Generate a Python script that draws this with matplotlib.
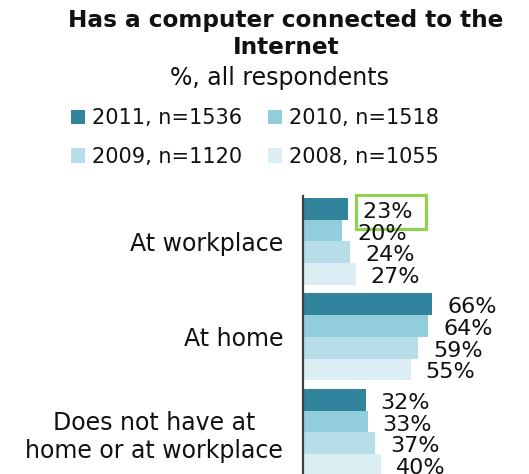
import matplotlib
matplotlib.use("Agg")
import matplotlib.pyplot as plt
import matplotlib.transforms as mtransforms
import numpy as np

plt.rcParams['font.family'] = ['DejaVu Sans']

# Data
categories = ["At workplace", "At home", "Does not have at\nhome or at workplace"]
series_labels = ["2011, n=1536", "2010, n=1518", "2009, n=1120", "2008, n=1055"]
values_2011 = [23, 66, 32]
values_2010 = [20, 64, 33]
values_2009 = [24, 59, 37]
values_2008 = [27, 55, 40]
series_values = [values_2011, values_2010, values_2009, values_2008]
colors = ["#31849B", "#92CDDC", "#B7DEE8", "#DAEEF3"]
highlight = (0, 0)  # (category index, series index) of the boxed label

W, H = 529, 474
fig = plt.figure(figsize=(W / 100, H / 100), dpi=100)

def fx(px):
    return px / W

def fy(py):
    return 1 - py / H

# Axes placed in pixel terms
ax_left, ax_top, ax_right, ax_bottom = 303, 196, 529, 474
ax = fig.add_axes([fx(ax_left), fy(ax_bottom), fx(ax_right - ax_left),
                   (ax_bottom - ax_top) / H])

group_pitch = 4.4
bar_h = 1.0
px_per_unit = 21.7
ytop = -0.5 - 2 / px_per_unit
ybot = ytop + (ax_bottom - ax_top) / px_per_unit
px_per_pct = 1.955

text_color = "#111111"
for s, vals in enumerate(series_values):
    ys = np.arange(len(categories)) * group_pitch + s
    ax.barh(ys, vals, height=bar_h, color=colors[s], label=series_labels[s],
            edgecolor="none")
    for g, (y, v) in enumerate(zip(ys, vals)):
        label = f"{v}%"
        kw = {}
        if (g, s) == highlight:
            label = f"{v}% "
            kw["bbox"] = dict(boxstyle="square,pad=0.3", fc="none",
                              ec="#92D050", lw=2.3)
        ax.annotate(label, xy=(v, y), xytext=(10.8, -2.2),
                    textcoords="offset points", ha="left", va="center",
                    fontsize=16, color=text_color, annotation_clip=False, **kw)

ax.set_xlim(0, (ax_right - ax_left) / px_per_pct)
ax.set_ylim(ybot, ytop)

centers = np.arange(len(categories)) * group_pitch + 1.5
ax.set_yticks(centers)
ax.set_yticklabels(categories, fontsize=17, color=text_color)
lift = mtransforms.ScaledTranslation(0, 3 / 72 * 0.72, fig.dpi_scale_trans)
for lab in ax.get_yticklabels():
    lab.set_multialignment("center")
    if "\n" in lab.get_text():
        lab.set_transform(lab.get_transform() + lift)
ax.tick_params(axis="y", length=0, pad=14.4)
ax.set_xticks([])
for side in ["top", "right", "bottom"]:
    ax.spines[side].set_visible(False)
ax.spines["left"].set_color("#404040")
ax.spines["left"].set_linewidth(1.6)

# Titles
fig.text(fx(286), fy(20), "Has a computer connected to the", ha="center",
         va="center", fontsize=16.7, fontweight="bold", color=text_color)
fig.text(fx(286), fy(48), "Internet", ha="center", va="center",
         fontsize=16.7, fontweight="bold", color=text_color)
fig.text(fx(280), fy(78), "%, all respondents", ha="center", va="center",
         fontsize=17, color=text_color)

# Legend in two columns: 2011 / 2009 on the left, 2010 / 2008 on the right
handles, labels = ax.get_legend_handles_labels()
order = [0, 2, 1, 3]
fig.legend([handles[i] for i in order], [labels[i] for i in order],
           loc="upper left", bbox_to_anchor=(fx(71), fy(108)), ncol=2,
           frameon=False, fontsize=15, borderpad=0, borderaxespad=0,
           handlelength=0.68, handleheight=0.68, handletextpad=0.35,
           columnspacing=1.2, labelspacing=0.9, labelcolor=text_color)

fig.savefig("out.png", dpi=100)
